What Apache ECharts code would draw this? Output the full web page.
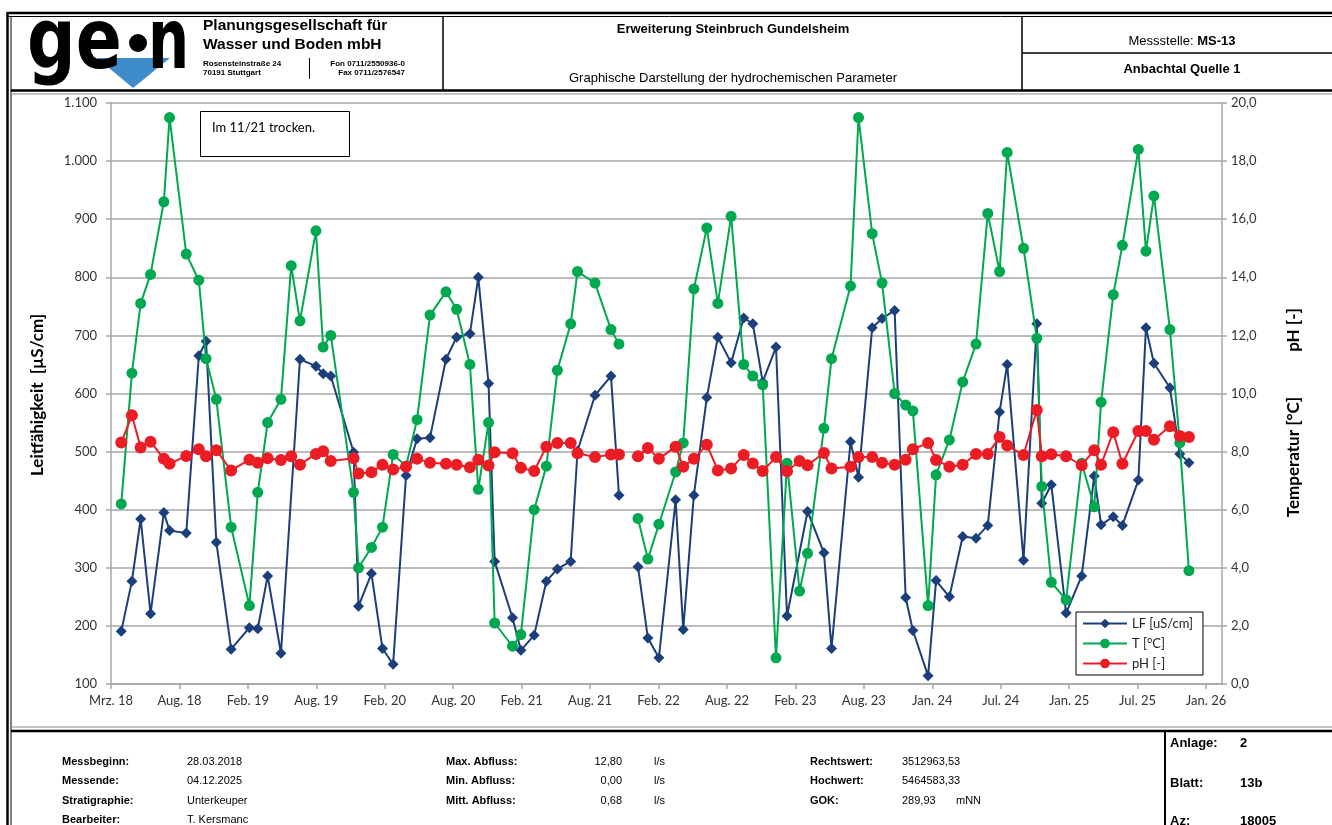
<!DOCTYPE html>
<html>
<head>
<meta charset="utf-8">
<title>MS-13 Anbachtal Quelle 1</title>
<script src="https://cdn.jsdelivr.net/npm/echarts@6/dist/echarts.min.js"></script>
<style>
  html, body { margin: 0; padding: 0; background: #fff; }
  #chart { width: 1332px; height: 825px; }
</style>
</head>
<body>
<div id="chart"></div>
<script>
  // Messtermine
  const sampleDates = [
    '2018-03-28', '2018-04-25', '2018-05-18', '2018-06-13', '2018-07-18', '2018-08-02', '2018-09-15', '2018-10-18', '2018-11-06', '2018-12-03',
    '2019-01-11', '2019-02-28', '2019-03-22', '2019-04-17', '2019-05-22', '2019-06-18', '2019-07-11', '2019-08-22', '2019-09-10', '2019-09-30',
    '2019-11-29', '2019-12-12', '2020-01-15', '2020-02-13', '2020-03-12', '2020-04-15', '2020-05-14', '2020-06-17', '2020-07-29', '2020-08-26',
    '2020-09-30', '2020-10-22', '2020-11-18', '2020-12-04', '2021-01-20', '2021-02-11', '2021-03-18', '2021-04-19', '2021-05-18', '2021-06-22',
    '2021-07-10', '2021-08-25', '2021-10-06', '2021-10-27', '2021-12-16', '2022-01-11', '2022-02-09', '2022-03-25', '2022-04-14', '2022-05-12',
    '2022-06-15', '2022-07-14', '2022-08-18', '2022-09-20', '2022-10-14', '2022-11-09', '2022-12-14', '2023-01-12', '2023-02-14', '2023-03-07',
    '2023-04-19', '2023-05-09', '2023-06-28', '2023-07-19', '2023-08-24', '2023-09-19', '2023-10-22', '2023-11-20', '2023-12-09', '2024-01-18',
    '2024-02-08', '2024-03-14', '2024-04-18', '2024-05-23', '2024-06-23', '2024-07-24', '2024-08-13', '2024-09-25', '2024-10-30', '2024-11-12',
    '2024-12-07', '2025-01-15', '2025-02-25', '2025-03-30', '2025-04-17', '2025-05-19', '2025-06-12', '2025-07-24', '2025-08-13', '2025-09-03',
    '2025-10-15', '2025-11-10', '2025-12-04'
  ];
  // 11/21 trocken -> Linien unterbrochen
  const dryDate = '2021-11-24';

  // LF [uS/cm]
  const lfValues = [
    191, 277, 384, 221, 395, 364, 360, 665, 690, 344,
    160, 197, 195, 286, 153, null, 659, 647, 634, 630,
    499, 234, 290, 161, 134, 459, 522, 524, 659, 697,
    703, 800, 617, 311, 214, 158, 184, 277, 298, 311,
    501, 597, 630, 425, 302, 179, 145, 417, 194, 425,
    593, 697, 653, 730, 720, 620, 680, 217, null, 397,
    326, 161, 517, 456, 713, 729, 743, 249, 192, 114,
    278, 250, 354, 351, 373, 568, 650, 313, 720, 411,
    443, 222, 286, 458, 374, 388, 373, 451, 713, 652,
    610, 496, 481
  ];
  // T [°C]
  const tempValues = [
    6.2, 10.7, 13.1, 14.1, 16.6, 19.5, 14.8, 13.9, 11.2, 9.8,
    5.4, 2.7, 6.6, 9.0, 9.8, 14.4, 12.5, 15.6, 11.6, 12.0,
    6.6, 4.0, 4.7, 5.4, 7.9, 7.5, 9.1, 12.7, 13.5, 12.9,
    11.0, 6.7, 9.0, 2.1, 1.3, 1.7, 6.0, 7.5, 10.8, 12.4,
    14.2, 13.8, 12.2, 11.7, 5.7, 4.3, 5.5, 7.3, 8.3, 13.6,
    15.7, 13.1, 16.1, 11.0, 10.6, 10.3, 0.9, 7.6, 3.2, 4.5,
    8.8, 11.2, 13.7, 19.5, 15.5, 13.8, 10.0, 9.6, 9.4, 2.7,
    7.2, 8.4, 10.4, 11.7, 16.2, 14.2, 18.3, 15.0, 11.9, 6.8,
    3.5, 2.9, 7.6, 6.1, 9.7, 13.4, 15.1, 18.4, 14.9, 16.8,
    12.2, 8.3, 3.9
  ];
  // pH [-]
  const phValues = [
    8.31, 9.25, 8.14, 8.34, 7.75, 7.58, 7.85, 8.08, 7.84, 8.05,
    7.35, 7.72, 7.62, 7.77, 7.71, 7.84, 7.55, 7.92, 8.01, 7.68,
    7.77, 7.25, 7.29, 7.55, 7.38, 7.48, 7.75, 7.62, 7.58, 7.55,
    7.46, 7.72, 7.52, 7.98, 7.94, 7.44, 7.33, 8.17, 8.30, 8.30,
    7.94, 7.81, 7.90, 7.90, 7.84, 8.12, 7.75, 8.17, 7.48, 7.75,
    8.24, 7.35, 7.42, 7.88, 7.59, 7.33, 7.81, 7.32, 7.68, 7.53,
    7.95, 7.42, 7.48, 7.81, 7.81, 7.62, 7.55, 7.72, 8.08, 8.30,
    7.71, 7.48, 7.55, 7.92, 7.92, 8.50, 8.21, 7.88, 9.43, 7.84,
    7.91, 7.84, 7.53, 8.05, 7.55, 8.67, 7.58, 8.71, 8.71, 8.41,
    8.87, 8.54, 8.50
  ];

  const tickLabels = [
    'Mrz. 18', 'Aug. 18', 'Feb. 19', 'Aug. 19', 'Feb. 20', 'Aug. 20', 'Feb. 21', 'Aug. 21', 'Feb. 22',
    'Aug. 22', 'Feb. 23', 'Aug. 23', 'Jan. 24', 'Jul. 24', 'Jan. 25', 'Jul. 25', 'Jan. 26'
  ];
  const axisStart = Date.parse('2018-03-01');
  const axisEnd = Date.parse('2026-03-01');
  const tickStep = 180 * 86400000;

  const FONT = 'Lato';
  const ARIAL = 'Liberation Sans';

  function toSeriesData(values) {
    const pts = [];
    sampleDates.forEach((d, i) => {
      if (values[i] != null) pts.push([Date.parse(d), values[i]]);
    });
    pts.push([Date.parse(dryDate), '-']);
    pts.sort((a, b) => a[0] - b[0]);
    return pts;
  }

  const chart = echarts.init(document.getElementById('chart'), null, { renderer: 'canvas' });

  function txt(x, y, text, opt) {
    return {
      type: 'text', x: x, y: y, silent: true,
      style: Object.assign({
        text: text, fontFamily: ARIAL, fontSize: 11, fill: '#000',
        align: 'left', verticalAlign: 'middle'
      }, opt || {})
    };
  }
  function line(x1, y1, x2, y2, w, c) {
    return {
      type: 'line', silent: true,
      shape: { x1: x1, y1: y1, x2: x2, y2: y2 },
      style: { stroke: c || '#000', lineWidth: w || 1 }
    };
  }

  const graphics = [
    // Rahmen
    line(7, 13, 1332, 13, 2.5),
    line(7, 16.5, 1332, 16.5, 1),
    line(7.5, 12, 7.5, 825, 2.5),
    line(11, 16, 11, 825, 1),
    line(11, 90.5, 1332, 90.5, 2.5),
    line(11, 94, 1332, 94, 1, '#888'),
    line(443, 16, 443, 90, 1.5),
    line(1022, 16, 1022, 90, 1.5),
    line(1022, 53, 1332, 53, 1.5),
    line(11, 727, 1332, 727, 1, '#888'),
    line(11, 731, 1332, 731, 2.5),
    line(1165, 731, 1165, 825, 2),

    // Logo
    {
      type: 'polygon', silent: true, z: 1,
      shape: { points: [[97, 58], [170, 58], [133, 88]] },
      style: { fill: '#3f8ccb' }
    },
    {
      type: 'text', silent: true, z: 2, x: 27, y: 46, scaleY: 1.22, originY: 0,
      style: { text: 'ge', fontFamily: 'DejaVu Sans', fontWeight: 'bold', fontSize: 68, fill: '#000', verticalAlign: 'middle' }
    },
    {
      type: 'circle', silent: true, z: 2,
      shape: { cx: 138, cy: 43, r: 9 },
      style: { fill: '#000' }
    },
    {
      type: 'text', silent: true, z: 2, x: 148, y: 46, scaleX: 0.85, scaleY: 1.22, originY: 0,
      style: { text: 'n', fontFamily: 'DejaVu Sans', fontWeight: 'bold', fontSize: 68, fill: '#000', verticalAlign: 'middle' }
    },
    txt(203, 26, 'Planungsgesellschaft für', { fontSize: 15.5, fontWeight: 'bold' }),
    txt(203, 45, 'Wasser und Boden mbH', { fontSize: 15.5, fontWeight: 'bold' }),
    txt(203, 64, 'Rosensteinstraße 24', { fontSize: 8, fontWeight: 'bold' }),
    txt(203, 73, '70191 Stuttgart', { fontSize: 8, fontWeight: 'bold' }),
    line(309.5, 58, 309.5, 79, 1),
    txt(405, 64, 'Fon 0711/2550936-0', { fontSize: 8, fontWeight: 'bold', align: 'right' }),
    txt(405, 73, 'Fax 0711/2576547', { fontSize: 8, fontWeight: 'bold', align: 'right' }),

    // Titel
    txt(733, 29, 'Erweiterung Steinbruch Gundelsheim', { fontSize: 13, fontWeight: 'bold', align: 'center' }),
    txt(733, 78, 'Graphische Darstellung der hydrochemischen Parameter', { fontSize: 13, align: 'center' }),
    {
      type: 'text', silent: true, x: 1182, y: 41,
      style: {
        text: '{n|Messstelle: }{b|MS-13}', align: 'center', verticalAlign: 'middle',
        rich: {
          n: { fontFamily: ARIAL, fontSize: 13, fill: '#000' },
          b: { fontFamily: ARIAL, fontSize: 13, fontWeight: 'bold', fill: '#000' }
        }
      }
    },
    txt(1182, 69, 'Anbachtal Quelle 1', { fontSize: 13, fontWeight: 'bold', align: 'center' }),

    // Achsentitel
    {
      type: 'text', silent: true, x: 38, y: 395, rotation: Math.PI / 2,
      style: { text: 'Leitfähigkeit  [µS/cm]', fontFamily: FONT, fontSize: 17, fontWeight: 'bold', fill: '#000', align: 'center', verticalAlign: 'middle' }
    },
    {
      type: 'text', silent: true, x: 1294, y: 330, rotation: Math.PI / 2,
      style: { text: 'pH [-]', fontFamily: FONT, fontSize: 17, fontWeight: 'bold', fill: '#000', align: 'center', verticalAlign: 'middle' }
    },
    {
      type: 'text', silent: true, x: 1294, y: 457, rotation: Math.PI / 2,
      style: { text: 'Temperatur [°C]', fontFamily: FONT, fontSize: 17, fontWeight: 'bold', fill: '#000', align: 'center', verticalAlign: 'middle' }
    },

    // Hinweis
    {
      type: 'rect', silent: true, z: 5,
      shape: { x: 200.5, y: 111.5, width: 149, height: 45 },
      style: { fill: '#fff', stroke: '#000', lineWidth: 1 }
    },
    Object.assign(txt(212, 128, 'Im 11/21 trocken.', { fontSize: 13, fontFamily: FONT }), { z: 6 }),

    // Fußzeile
    txt(62, 762, 'Messbeginn:', { fontWeight: 'bold' }),
    txt(187, 762, '28.03.2018'),
    txt(62, 781, 'Messende:', { fontWeight: 'bold' }),
    txt(187, 781, '04.12.2025'),
    txt(62, 801, 'Stratigraphie:', { fontWeight: 'bold' }),
    txt(187, 801, 'Unterkeuper'),
    txt(62, 820, 'Bearbeiter:', { fontWeight: 'bold' }),
    txt(187, 820, 'T. Kersmanc'),
    txt(446, 762, 'Max. Abfluss:', { fontWeight: 'bold' }),
    txt(622, 762, '12,80', { align: 'right' }),
    txt(654, 762, 'l/s'),
    txt(446, 781, 'Min. Abfluss:', { fontWeight: 'bold' }),
    txt(622, 781, '0,00', { align: 'right' }),
    txt(654, 781, 'l/s'),
    txt(446, 801, 'Mitt. Abfluss:', { fontWeight: 'bold' }),
    txt(622, 801, '0,68', { align: 'right' }),
    txt(654, 801, 'l/s'),
    txt(810, 762, 'Rechtswert:', { fontWeight: 'bold' }),
    txt(902, 762, '3512963,53'),
    txt(810, 781, 'Hochwert:', { fontWeight: 'bold' }),
    txt(902, 781, '5464583,33'),
    txt(810, 801, 'GOK:', { fontWeight: 'bold' }),
    txt(902, 801, '289,93'),
    txt(956, 801, 'mNN'),
    txt(1170, 743, 'Anlage:', { fontSize: 13, fontWeight: 'bold' }),
    txt(1240, 743, '2', { fontSize: 13, fontWeight: 'bold' }),
    txt(1170, 783, 'Blatt:', { fontSize: 13, fontWeight: 'bold' }),
    txt(1240, 783, '13b', { fontSize: 13, fontWeight: 'bold' }),
    txt(1170, 821, 'Az:', { fontSize: 13, fontWeight: 'bold' }),
    txt(1240, 821, '18005', { fontSize: 13, fontWeight: 'bold' })
  ];

  const axisGray = '#a6a6a6';
  const labelColor = '#333';

  const option = {
    animation: false,
    backgroundColor: '#fff',
    grid: { left: 111, right: 110, top: 103, bottom: 141 },
    legend: {
      orient: 'vertical',
      left: 1076,
      top: 612,
      padding: [5, 10, 5, 6],
      itemGap: 7,
      itemWidth: 44,
      itemHeight: 12,
      borderColor: '#000',
      borderWidth: 1,
      backgroundColor: '#fff',
      textStyle: { fontFamily: FONT, fontSize: 13, color: '#222' },
      data: ['LF [uS/cm]', 'T [°C]', 'pH [-]']
    },
    xAxis: {
      type: 'value',
      min: axisStart,
      max: axisEnd,
      interval: tickStep,
      axisLine: { show: true, lineStyle: { color: axisGray, width: 1.5 } },
      axisTick: { show: true, length: 5, lineStyle: { color: axisGray, width: 1.5 } },
      splitLine: { show: false },
      axisLabel: {
        margin: 10,
        fontFamily: FONT,
        fontSize: 13,
        color: labelColor,
        showMaxLabel: false,
        formatter: function (v) {
          const k = (v - axisStart) / tickStep;
          if (Math.abs(k - Math.round(k)) > 0.01) return '';
          return tickLabels[Math.round(k)] || '';
        }
      }
    },
    yAxis: [
      {
        type: 'value',
        min: 100,
        max: 1100,
        interval: 100,
        position: 'left',
        axisLine: { show: true, lineStyle: { color: axisGray, width: 1.5 } },
        axisTick: { show: true, length: 5, lineStyle: { color: axisGray, width: 1.5 } },
        splitLine: { show: true, lineStyle: { color: axisGray, width: 1.5 } },
        axisLabel: {
          margin: 14,
          fontFamily: FONT,
          fontSize: 13,
          color: labelColor,
          formatter: function (v) {
            if (v >= 1000) return Math.floor(v / 1000) + '.' + String(v % 1000).padStart(3, '0');
            return String(v);
          }
        }
      },
      {
        type: 'value',
        min: 0,
        max: 20,
        interval: 2,
        position: 'right',
        axisLine: { show: true, lineStyle: { color: axisGray, width: 1.5 } },
        axisTick: { show: true, length: 5, lineStyle: { color: axisGray, width: 1.5 } },
        splitLine: { show: false },
        axisLabel: {
          margin: 9,
          fontFamily: FONT,
          fontSize: 13,
          color: labelColor,
          formatter: function (v) { return v.toFixed(1).replace('.', ','); }
        }
      }
    ],
    series: [
      {
        name: 'LF [uS/cm]',
        type: 'line',
        yAxisIndex: 0,
        data: toSeriesData(lfValues),
        symbol: 'diamond',
        symbolSize: 11,
        color: '#1b3f7a',
        lineStyle: { width: 2, color: '#1b3f7a' },
        itemStyle: { color: '#1b3f7a' },
        connectNulls: false,
        z: 3
      },
      {
        name: 'T [°C]',
        type: 'line',
        yAxisIndex: 1,
        data: toSeriesData(tempValues),
        symbol: 'circle',
        symbolSize: 11,
        color: '#00a84f',
        lineStyle: { width: 2, color: '#00a84f' },
        itemStyle: { color: '#00a84f' },
        connectNulls: false,
        z: 4
      },
      {
        name: 'pH [-]',
        type: 'line',
        yAxisIndex: 1,
        data: toSeriesData(phValues),
        symbol: 'circle',
        symbolSize: 12,
        color: '#ec1c24',
        lineStyle: { width: 2, color: '#ec1c24' },
        itemStyle: { color: '#ec1c24' },
        connectNulls: false,
        z: 5
      }
    ],
    graphic: graphics
  };

  chart.setOption(option);
</script>
</body>
</html>
